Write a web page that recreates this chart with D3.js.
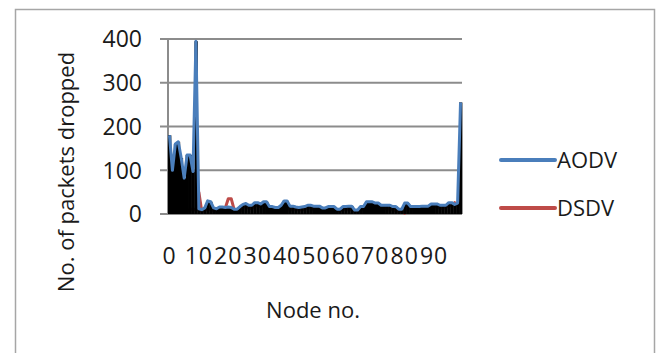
<!DOCTYPE html>
<html>
<head>
<meta charset="utf-8">
<script src="https://cdn.jsdelivr.net/npm/d3@7"></script>
<style>
  body { margin: 0; background: #fff; }
  svg { display: block; font-family: "Open Sans", sans-serif; }
</style>
</head>
<body>
<svg id="chart" width="658" height="353"></svg>
<script>
// node ids 0..99
var nodes = d3.range(0, 100);
var xTickLabels = [0, 10, 20, 30, 40, 50, 60, 70, 80, 90];
var yTicks = [0, 100, 200, 300, 400];
var seriesNames = ["AODV", "DSDV"];

var aodv = [
  180, 100, 160, 165, 128, 82, 135, 135, 97, 395,
  12, 10, 14, 30, 28, 14, 12, 16, 16, 15,
  16, 15, 11, 11, 17, 22, 24, 20, 20, 26,
  26, 23, 28, 28, 17, 17, 15, 15, 20, 30,
  30, 18, 18, 16, 15, 16, 17, 20, 20, 18,
  18, 18, 14, 14, 17, 17, 17, 11, 11, 17,
  17, 18, 18, 9, 9, 17, 17, 28, 28, 28,
  25, 25, 20, 20, 20, 20, 17, 17, 11, 11,
  25, 25, 17, 17, 17, 17, 18, 18, 18, 23,
  23, 23, 20, 20, 20, 26, 26, 22, 25, 255
];
var dsdv = [
  10, 8, 12, 10, 9, 11, 8, 10, 12, 8,
  50, 5, 8, 12, 10, 8, 6, 9, 12, 14,
  35, 35, 10, 8, 5, 15, 18, 14, 12, 20,
  19, 16, 22, 20, 8, 12, 10, 9, 14, 22,
  20, 8, 12, 10, 11, 9, 12, 14, 15, 10,
  12, 13, 8, 10, 12, 11, 10, 6, 7, 12,
  10, 12, 10, 5, 4, 10, 11, 20, 22, 18,
  20, 16, 14, 12, 13, 10, 12, 6, 5, 6,
  2, 18, 12, 10, 12, 13, 12, 14, 16, 15,
  18, 16, 14, 12, 15, 20, 18, 26, 20, 25
];

var colors = { AODV: "#4a7ebb", DSDV: "#be4b48" };

var svg = d3.select("#chart");

// outer chart frame
svg.append("rect")
  .attr("x", 15.5).attr("y", 9.5)
  .attr("width", 639).attr("height", 380)
  .attr("fill", "none")
  .attr("stroke", "#a6a6a6")
  .attr("stroke-width", 1.5);

var xScale = d3.scaleBand()
  .domain(nodes)
  .range([168, 462])
  .padding(0);

var yScale = d3.scaleLinear()
  .domain([0, 400])
  .range([214, 39]);

var bw = xScale.bandwidth();

// gridlines
svg.append("g")
  .selectAll("line")
  .data(yTicks)
  .enter().append("line")
  .attr("x1", 160).attr("x2", 462)
  .attr("y1", d => yScale(d)).attr("y2", d => yScale(d))
  .attr("stroke", "#8c8c8c")
  .attr("stroke-width", 2);

// y axis line
svg.append("line")
  .attr("x1", 168).attr("x2", 168)
  .attr("y1", yScale(400)).attr("y2", yScale(0))
  .attr("stroke", "#8c8c8c")
  .attr("stroke-width", 2);

// y tick labels
svg.append("g")
  .selectAll("text")
  .data(yTicks)
  .enter().append("text")
  .attr("x", 142)
  .attr("y", d => yScale(d))
  .attr("dy", "0.36em")
  .attr("text-anchor", "end")
  .style("font-size", "23px")
  .attr("fill", "#1a1a1a")
  .text(d => d);

var line = d3.line()
  .x(function (d) { return xScale(d.x) + bw / 2; })
  .y(function (d) { return yScale(d.y); });

var dsdvData = nodes.map((n, i) => ({ x: n, y: dsdv[i] }));
var aodvData = nodes.map((n, i) => ({ x: n, y: aodv[i] }));

svg.append("path")
  .datum(dsdvData)
  .attr("d", line)
  .attr("fill", "none")
  .attr("stroke", colors.DSDV)
  .attr("stroke-width", 3)
  .attr("stroke-linejoin", "round");

// black columns under the lines
svg.append("g")
  .selectAll("rect")
  .data(aodvData)
  .enter().append("rect")
  .attr("x", d => xScale(d.x))
  .attr("y", d => yScale(d.y))
  .attr("width", bw + 0.4)
  .attr("height", d => yScale(0) - yScale(d.y))
  .attr("fill", "#000");

svg.append("path")
  .datum(aodvData)
  .attr("d", line)
  .attr("fill", "none")
  .attr("stroke", colors.AODV)
  .attr("stroke-width", 3)
  .attr("stroke-linejoin", "round");

// x tick labels
svg.append("g")
  .selectAll("text")
  .data(xTickLabels)
  .enter().append("text")
  .attr("x", d => xScale(d) + bw / 2)
  .attr("y", 264)
  .attr("text-anchor", "middle")
  .style("font-size", "23px")
  .style("letter-spacing", "1px")
  .attr("fill", "#1a1a1a")
  .text(d => d);

// axis titles
svg.append("text")
  .attr("transform", "translate(74,172) rotate(-90)")
  .attr("text-anchor", "middle")
  .style("font-size", "22px")
  .attr("fill", "#1a1a1a")
  .text("No. of packets dropped");

svg.append("text")
  .attr("x", 313).attr("y", 318)
  .attr("text-anchor", "middle")
  .style("font-size", "22px")
  .attr("fill", "#1a1a1a")
  .text("Node no.");

// legend
var legend = svg.append("g")
  .selectAll("g")
  .data(seriesNames)
  .enter().append("g")
  .attr("transform", (d, i) => "translate(0," + (160 + i * 48) + ")");

legend.append("line")
  .attr("x1", 501).attr("x2", 555)
  .attr("y1", 0).attr("y2", 0)
  .attr("stroke", d => colors[d])
  .attr("stroke-width", 4)
  .attr("stroke-linecap", "round");

legend.append("text")
  .attr("x", 557)
  .attr("y", 0)
  .attr("dy", "0.36em")
  .style("font-size", "22px")
  .attr("fill", "#1a1a1a")
  .text(d => d);
</script>
</body>
</html>
